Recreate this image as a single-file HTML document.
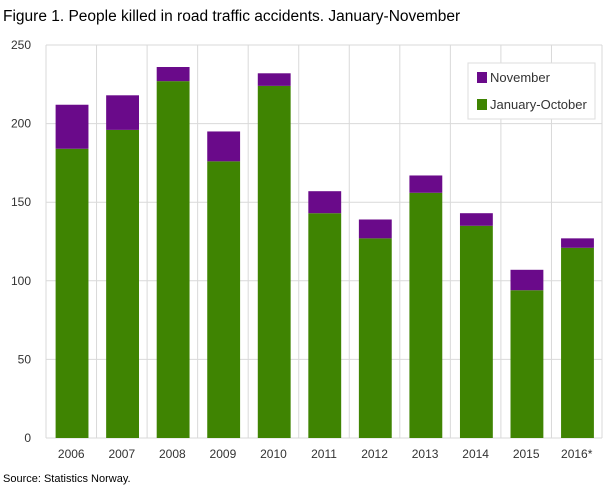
<!DOCTYPE html>
<html><head><meta charset="utf-8"><style>
body{margin:0;background:#fff;font-family:"Liberation Sans",sans-serif;}
svg text{font-family:"Liberation Sans",sans-serif;fill:#333;}
</style></head><body>
<svg id="chart" width="609" height="488" viewBox="0 0 609 488" xmlns="http://www.w3.org/2000/svg">
<text x="3" y="21" font-size="15.5" style="fill:#000">Figure 1. People killed in road traffic accidents. January-November</text>
<g id="grid"></g><g id="bars"></g><g id="labels"></g>
<g>
<rect x="468" y="63" width="127" height="56" fill="#fff" stroke="#ddd"/>
<rect x="477" y="72" width="10" height="11" fill="#6a0a8a"/>
<text x="490" y="82" font-size="13">November</text>
<rect x="477" y="99" width="10" height="11" fill="#3f8402"/>
<text x="490" y="109" font-size="13">January-October</text>
</g>
<text x="3" y="482" font-size="11" style="fill:#000">Source: Statistics Norway.</text>
</svg>
<script>
const categories=["2006","2007","2008","2009","2010","2011","2012","2013","2014","2015","2016*"];
const janOct=[184,196,227,176,224,143,127,156,135,94,121];
const november=[28,22,9,19,8,14,12,11,8,13,6];
const yTicks=[0,50,100,150,200,250];
const NS="http://www.w3.org/2000/svg";
const L=46,R=602,T=45,B=438,YMAX=250;
const band=(R-L)/categories.length;
const y=v=>B-(v/YMAX)*(B-T);
const x=i=>L+i*band;
function mk(tag,attrs,parent){const e=document.createElementNS(NS,tag);for(const k in attrs)e.setAttribute(k,attrs[k]);document.getElementById(parent).appendChild(e);return e;}
yTicks.forEach(t=>{
  const g=mk("line",{x1:L,x2:R,y1:y(t),y2:y(t),stroke:"#d9d9d9","stroke-width":1},"grid");
  
  
  const tx=mk("text",{x:L-15,y:y(t)+4,"text-anchor":"end","font-size":"12"},"labels");
  tx.textContent=t;
  
  
});
for(let i=0;i<=categories.length;i++){
  const v=mk("line",{x1:x(i),x2:x(i),y1:T,y2:B,stroke:"#d9d9d9","stroke-width":1},"grid");
  
  
}
categories.forEach((c,i)=>{
  const bx=x(i)+band*0.19,bw=band*0.65;
  const g=mk("rect",{x:bx,y:y(janOct[i]),width:bw,height:B-y(janOct[i]),fill:"#3f8402"},"bars");
  
  
  const tot=janOct[i]+november[i];
  const p=mk("rect",{x:bx,y:y(tot),width:bw,height:y(janOct[i])-y(tot),fill:"#6a0a8a"},"bars");
  
  
  const t=mk("text",{x:x(i)+band/2,y:458,"text-anchor":"middle","font-size":"12"},"labels");
  t.textContent=c;
  
  
});
</script>
</body></html>
